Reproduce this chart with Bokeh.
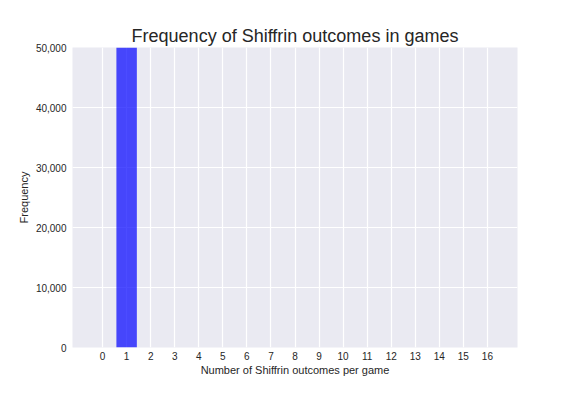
from bokeh.plotting import figure
from bokeh.models import FixedTicker, NumeralTickFormatter, Range1d
from bokeh.embed import file_html
from bokeh.resources import INLINE

outcomes = list(range(0, 17))
frequency = [0, 100000, 0, 0, 0, 0, 0, 0, 0, 0, 0, 0, 0, 0, 0, 0, 0]
y_ticks = [0, 10000, 20000, 30000, 40000, 50000]

FONT = "Liberation Sans"
TXT = "#262626"

p = figure(width=560, height=380, output_backend="svg", toolbar_location=None,
           x_range=Range1d(-1.25, 17.25), y_range=Range1d(0, 50000),
           min_border_left=72, min_border_right=43, min_border_top=47, min_border_bottom=33,
           title="Frequency of Shiffrin outcomes in games")
p.background_fill_color = "#EAEAF2"
p.border_fill_color = "white"
p.outline_line_color = None

p.title.text_font = FONT
p.title.text_font_size = "18px"
p.title.text_font_style = "normal"
p.title.text_color = TXT
p.title.align = "center"
p.title.standoff = 4

p.vbar(x=outcomes, top=frequency, width=0.85, fill_color="blue", fill_alpha=0.7,
       line_color=None)

p.xaxis.ticker = FixedTicker(ticks=outcomes)
p.yaxis.ticker = FixedTicker(ticks=y_ticks)
p.yaxis.formatter = NumeralTickFormatter(format="0,0")

for ax in (p.xaxis[0], p.yaxis[0]):
    ax.axis_line_color = None
    ax.major_tick_line_color = None
    ax.minor_tick_line_color = None
    ax.major_tick_in = 0
    ax.major_tick_out = 0
    ax.major_label_text_font = FONT
    ax.major_label_text_font_size = "10px"
    ax.major_label_text_color = TXT
    ax.axis_label_text_font = FONT
    ax.axis_label_text_font_size = "11px"
    ax.axis_label_text_font_style = "normal"
    ax.axis_label_text_color = TXT

p.xaxis.major_label_standoff = 4
p.yaxis.major_label_standoff = 6
p.xaxis.axis_label = "Number of Shiffrin outcomes per game"
p.yaxis.axis_label = "Frequency"
p.xaxis.axis_label_standoff = 1
p.yaxis.axis_label_standoff = 3

p.grid.grid_line_color = "white"
p.grid.grid_line_width = 1.2
p.xgrid.ticker = FixedTicker(ticks=outcomes)
p.ygrid.ticker = FixedTicker(ticks=y_ticks)
p.grid.level = "underlay"

open("out.html", "w").write(file_html(p, INLINE))
